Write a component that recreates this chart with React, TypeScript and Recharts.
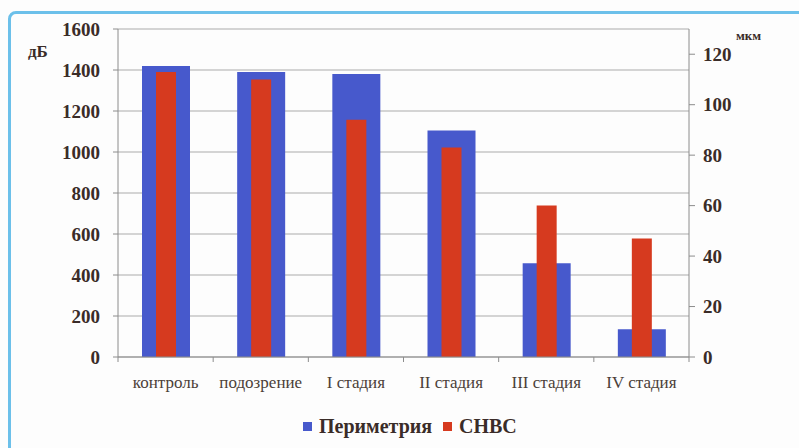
import React from 'react'
import { ComposedChart, Bar, XAxis, YAxis, CartesianGrid } from 'recharts'

const stages = ['контроль', 'подозрение', 'I стадия', 'II стадия', 'III стадия', 'IV стадия']
const perimetry = [1420, 1390, 1380, 1105, 457, 135]
const snvs = [113, 110, 94, 83, 60, 47]
const dbTicks = [0, 200, 400, 600, 800, 1000, 1200, 1400, 1600]
const umTicks = [0, 20, 40, 60, 80, 100, 120]

const BLUE = '#4759cc'
const RED = '#d63a1f'
const INK = '#3a2c28'
const SERIF = 'Liberation Serif'

const data = stages.map((stage, i) => ({ stage, perimetry: perimetry[i], snvs: snvs[i] }))

// category label plus Excel-style marks on the band boundaries
const StageTick = (props: any) => {
  const { x, y, payload, index, visibleTicksCount } = props
  const half = payload.offset ?? 47.6
  const top = y - 5
  return (
    <g>
      <line x1={x - half} x2={x - half} y1={top} y2={top + 5} stroke="#8c8c8c" />
      {index === visibleTicksCount - 1 && (
        <line x1={x + half} x2={x + half} y1={top} y2={top + 5} stroke="#8c8c8c" />
      )}
      <text x={x} y={y} dy={26} textAnchor="middle" fontFamily={SERIF} fontSize={17} fill="#4b4038">
        {payload.value}
      </text>
    </g>
  )
}

const legendItem = (color: string, label: string, left: number) => (
  <div style={{ position: 'absolute', left, top: 415, display: 'flex', alignItems: 'center', gap: 7 }}>
    <div style={{ width: 9, height: 9, background: color }} />
    <span style={{ fontFamily: SERIF, fontWeight: 700, fontSize: 20, color: INK }}>{label}</span>
  </div>
)

export default function App() {
  return (
    <div style={{
      position: 'absolute', left: 0, top: 0, width: 799, height: 448,
      overflow: 'hidden', background: '#fdfdfd', fontFamily: SERIF,
    }}>
      {/* outer frame */}
      <div style={{
        position: 'absolute', left: 8, top: 11, width: 820, height: 470,
        border: '3px solid #6cc0ea', borderRadius: 8,
      }} />

      <ComposedChart width={799} height={448} data={data} margin={{ top: 29, right: 50, left: 0, bottom: 51 }}>
        <CartesianGrid xAxisId="main" yAxisId="left" vertical={false} stroke="#ababab" />
        <XAxis
          xAxisId="main" dataKey="stage" height={40}
          axisLine={{ stroke: '#8c8c8c' }} tickLine={{ stroke: 'none' }}
          tickSize={5} tickMargin={0} interval={0}
          tick={<StageTick />}
        />
        <XAxis xAxisId="overlay" dataKey="stage" hide />
        <YAxis
          yAxisId="left" width={118} domain={[0, 1600]} ticks={dbTicks}
          tickSize={5} tickMargin={13}
          axisLine={{ stroke: '#8c8c8c' }} tickLine={{ stroke: '#8c8c8c' }}
          tick={{ fontFamily: SERIF, fontWeight: 700, fontSize: 19, fill: INK }}
        />
        <YAxis
          yAxisId="right" orientation="right" width={60} domain={[0, 130]} ticks={umTicks}
          tickSize={6} tickMargin={8}
          axisLine={{ stroke: '#8c8c8c' }} tickLine={{ stroke: '#8c8c8c' }}
          tick={{ fontFamily: SERIF, fontWeight: 700, fontSize: 19, fill: INK }}
        />
        <Bar xAxisId="main" yAxisId="left" dataKey="perimetry" name="Периметрия"
          barSize={48} fill={BLUE} isAnimationActive={false} />
        <Bar xAxisId="overlay" yAxisId="right" dataKey="snvs" name="СНВС"
          barSize={20} fill={RED} isAnimationActive={false} />
      </ComposedChart>

      {/* axis units */}
      <div style={{ position: 'absolute', left: 28, top: 42, fontWeight: 700, fontSize: 17, color: INK }}>дБ</div>
      <div style={{ position: 'absolute', left: 736, top: 28, fontWeight: 700, fontSize: 13, color: INK }}>мкм</div>

      {legendItem(BLUE, 'Периметрия', 303)}
      {legendItem(RED, 'СНВС', 443)}
    </div>
  )
}
